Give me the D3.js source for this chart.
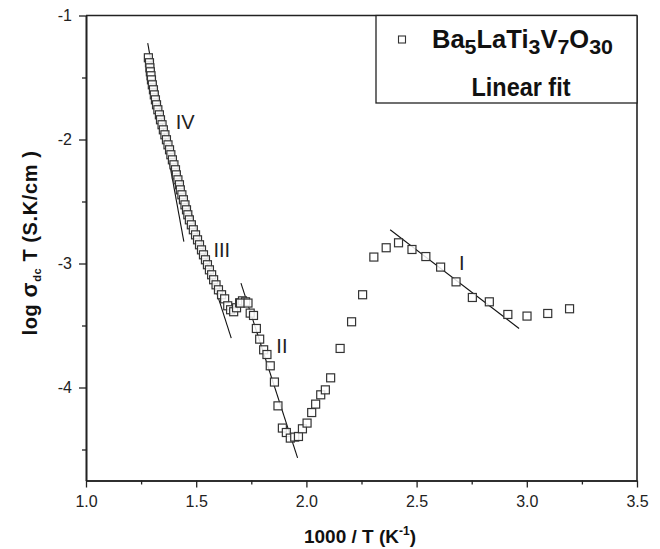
<!DOCTYPE html>
<html><head><meta charset="utf-8">
<script src="https://cdn.jsdelivr.net/npm/d3@7"></script>
<style>body{margin:0;background:#fff} svg{display:block}</style>
</head><body><svg id="c" width="660" height="549"></svg>
<script>
// Data: 1000/T (K^-1) and log(sigma_dc T)
const xValues = [
1.283,1.288,1.290,1.292,1.295,1.297,1.301,1.306,1.310,1.315,1.320,1.326,1.333,1.338,1.345,1.351,1.358,1.365,1.372,1.379,
1.385,1.392,1.399,1.406,1.410,1.417,1.424,1.428,1.435,1.442,1.449,1.456,1.462,1.469,1.478,1.487,1.497,1.506,1.515,1.524,
1.533,1.542,1.551,1.560,1.570,1.579,1.590,1.601,1.615,1.629,1.643,1.656,1.670,1.683,1.697,1.710,1.724,
1.701,1.735,1.745,1.760,1.773,1.788,1.806,1.821,1.836,1.855,1.871,1.891,1.909,1.927,1.947,1.964,1.982,2.003,2.024,2.042,2.065,2.086,2.110,
2.153,2.205,2.255,2.306,2.362,2.418,2.479,2.542,2.609,2.679,2.753,2.830,2.914,3.001,3.095,3.194];
const yValues = [
-1.341,-1.381,-1.422,-1.454,-1.486,-1.519,-1.559,-1.599,-1.640,-1.680,-1.720,-1.760,-1.801,-1.841,-1.881,-1.922,-1.962,-2.002,-2.043,-2.083,
-2.123,-2.164,-2.204,-2.244,-2.285,-2.325,-2.365,-2.406,-2.446,-2.486,-2.527,-2.567,-2.607,-2.648,-2.688,-2.728,-2.769,-2.809,-2.849,-2.890,
-2.930,-2.970,-3.010,-3.051,-3.091,-3.131,-3.172,-3.212,-3.252,-3.285,-3.341,-3.373,-3.389,-3.357,-3.317,-3.301,-3.309,
-3.319,-3.319,-3.400,-3.419,-3.524,-3.610,-3.696,-3.734,-3.825,-3.956,-4.148,-4.327,-4.363,-4.408,-4.400,-4.395,-4.333,-4.287,-4.202,-4.134,-4.059,-4.019,-3.922,
-3.685,-3.470,-3.252,-2.948,-2.873,-2.833,-2.887,-2.944,-3.029,-3.148,-3.274,-3.309,-3.411,-3.424,-3.403,-3.365];

// Linear fit segments (regions I..IV)
const fitNames = ["I","II","III","IV"];
const fitX0 = [2.380, 1.703, 1.459, 1.280];
const fitY0 = [-2.728, -3.158, -2.494, -1.223];
const fitX1 = [2.965, 1.960, 1.659, 1.444];
const fitY1 = [-3.524, -4.567, -3.602, -2.823];
const labelX = [2.705, 1.889, 1.616, 1.450];
const labelY = [-2.992, -3.669, -2.895, -1.862];

const xMajorTicks = [1.0, 1.5, 2.0, 2.5, 3.0, 3.5];
const xMinorTicks = [1.25, 1.75, 2.25, 2.75, 3.25];
const yMajorTicks = [-1, -2, -3, -4];
const yMinorTicks = [-1.5, -2.5, -3.5, -4.5];

const svg = d3.select("#c");
const L = 86, R = 637, T = 15.5, B = 480.5;
const x = d3.scaleLinear().domain([1, 3.5]).range([L, R]);
const y = d3.scaleLinear().domain([-4.75, -1]).range([B, T]);
const ink = "#222";
const font = "'Liberation Sans', Arial, sans-serif";

// fit lines
const fits = fitNames.map((n, i) => ({n, x0: fitX0[i], y0: fitY0[i], x1: fitX1[i], y1: fitY1[i], lx: labelX[i], ly: labelY[i]}));
svg.append("g").selectAll("line").data(fits).join("line")
  .attr("x1", d => x(d.x0)).attr("y1", d => y(d.y0))
  .attr("x2", d => x(d.x1)).attr("y2", d => y(d.y1))
  .attr("stroke", "#111").attr("stroke-width", 1.1);

// data squares
const pts = xValues.map((v, i) => ({x: v, y: yValues[i]}));
const s = 8;
svg.append("g").selectAll("rect").data(pts).join("rect")
  .attr("x", d => x(d.x) - s/2).attr("y", d => y(d.y) - s/2)
  .attr("width", s).attr("height", s)
  .attr("fill", "#fff").attr("fill-opacity", 0.85)
  .attr("stroke", "#333").attr("stroke-width", 1.2);

// region labels
svg.append("g").selectAll("text").data(fits).join("text")
  .attr("x", d => x(d.lx)).attr("y", d => y(d.ly))
  .attr("text-anchor", "middle").attr("dominant-baseline", "central")
  .attr("font-family", font).attr("font-size", 20).attr("fill", ink)
  .text(d => d.n);

// axes
const fmtX = d3.format(".1f");
svg.append("g").attr("transform", `translate(0,${B})`)
  .call(d3.axisBottom(x).tickValues(xMajorTicks).tickSize(7).tickSizeOuter(0).tickPadding(8).tickFormat(fmtX));
svg.append("g").attr("transform", `translate(0,${B})`)
  .call(d3.axisBottom(x).tickValues(xMinorTicks).tickSize(4).tickSizeOuter(0).tickFormat(""));
svg.append("g").attr("transform", `translate(${L},0)`)
  .call(d3.axisLeft(y).tickValues(yMajorTicks).tickSize(7).tickSizeOuter(0).tickPadding(7).tickFormat(d => String(d)));
svg.append("g").attr("transform", `translate(${L},0)`)
  .call(d3.axisLeft(y).tickValues(yMinorTicks).tickSize(4).tickSizeOuter(0).tickFormat(""));
svg.selectAll(".domain").attr("stroke", ink).attr("stroke-width", 1.6);
svg.selectAll(".tick line").attr("stroke", ink).attr("stroke-width", 1.3);
svg.selectAll(".tick text").attr("font-family", font).attr("font-size", 16).attr("fill", ink);

// top & right frame
svg.append("line").attr("x1", L).attr("x2", R).attr("y1", T).attr("y2", T).attr("stroke", ink).attr("stroke-width", 1.6);
svg.append("line").attr("x1", R).attr("x2", R).attr("y1", T).attr("y2", B).attr("stroke", ink).attr("stroke-width", 1.6);

// axis titles
const xt = svg.append("text").attr("x", 360).attr("y", 543).attr("text-anchor", "middle")
  .attr("font-family", font).attr("font-size", 19).attr("font-weight", "bold").attr("fill", "#111");
xt.append("tspan").text("1000 / T (K");
xt.append("tspan").attr("font-size", 12).attr("dy", -8).text("-1");
xt.append("tspan").attr("dy", 8).text(")");

const yt = svg.append("text").attr("transform", `translate(37,243) rotate(-90)`).attr("text-anchor", "middle")
  .attr("font-family", font).attr("font-size", 20).attr("font-weight", "bold").attr("fill", "#111")
  .attr("letter-spacing", 0.6);
yt.append("tspan").text("log ");
yt.append("tspan").attr("font-size", 22).text("σ");
yt.append("tspan").attr("font-size", 11).attr("dy", 4).text("dc");
yt.append("tspan").attr("dy", -4).text(" T (S.K/cm )");

// legend
const lg = svg.append("g");
lg.append("rect").attr("x", 376).attr("y", T).attr("width", R - 376).attr("height", 103 - T)
  .attr("fill", "#fff").attr("stroke", ink).attr("stroke-width", 1.3);
lg.append("rect").attr("x", 398.5).attr("y", 36).attr("width", 7).attr("height", 7)
  .attr("fill", "#fff").attr("stroke", "#333").attr("stroke-width", 1.1);
const f = lg.append("text").attr("x", 432).attr("y", 47.5)
  .attr("font-family", font).attr("font-size", 25).attr("font-weight", "bold").attr("fill", "#111")
  .attr("textLength", 181).attr("lengthAdjust", "spacingAndGlyphs");
const parts = [["Ba",0],["5",1],["LaTi",0],["3",1],["V",0],["7",1],["O",0],["30",1]];
let prev = 0;
parts.forEach(([t, sub]) => {
  const dy = (sub ? 6 : 0) - prev;
  f.append("tspan").attr("dy", dy).attr("font-size", sub ? 21 : 25).text(t);
  prev = sub ? 6 : 0;
});
lg.append("text").attr("x", 521).attr("y", 96).attr("text-anchor", "middle")
  .attr("font-family", font).attr("font-size", 25).attr("font-weight", "bold").attr("fill", "#111")
  .attr("textLength", 99).attr("lengthAdjust", "spacingAndGlyphs")
  .text("Linear fit");
</script></body></html>
